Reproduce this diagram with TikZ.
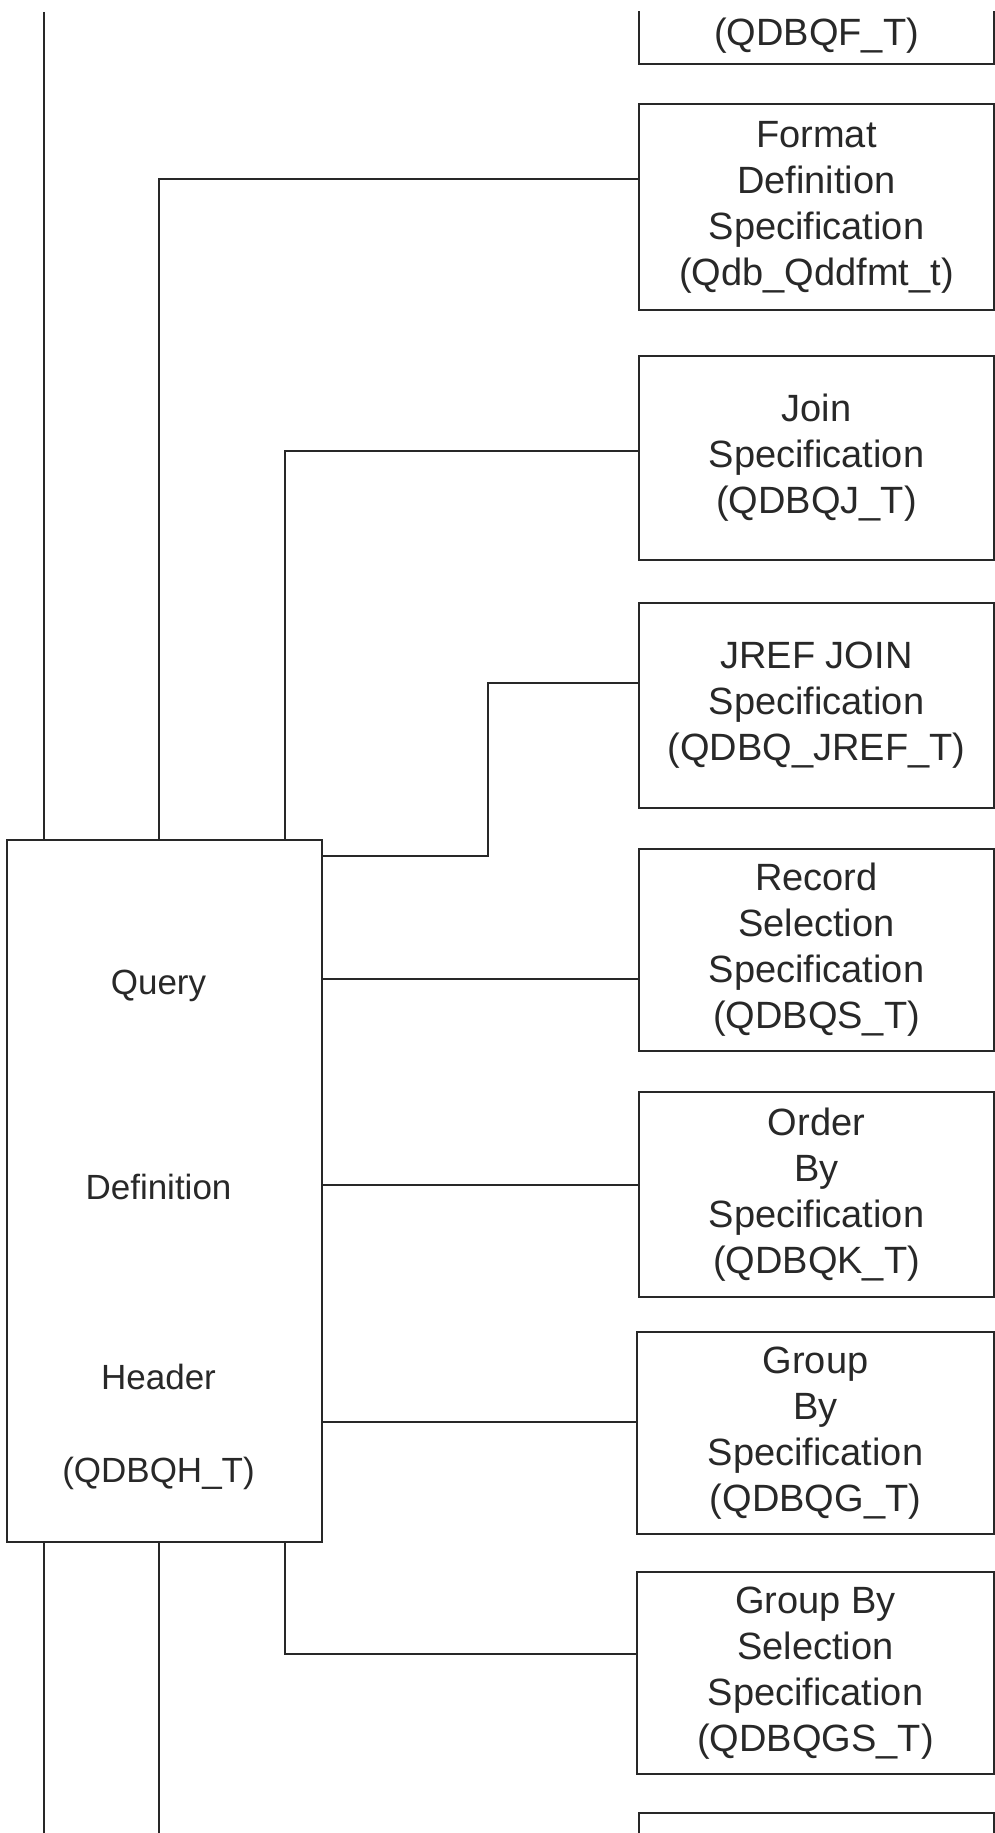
\documentclass[tikz,border=0pt]{standalone}
\usepackage{fontspec}
\setmainfont{Liberation Sans}
\usepackage{tikz}
\usetikzlibrary{shapes}
\definecolor{inkgray}{RGB}{40,40,40}
\tikzset{
    specbox/.style={rectangle, draw=inkgray, text=inkgray, line width=1.8pt,
      minimum width=355pt, minimum height=204pt, align=center,
      font=\fontsize{38}{46}\selectfont},
    hdrbox/.style={rectangle, draw=inkgray, text=inkgray, line width=1.8pt,
      minimum width=315pt, minimum height=702pt,
      font=\fontsize{35}{42}\selectfont},
    wire/.style={draw=inkgray, line width=1.8pt},
}

\begin{document}
\begin{tikzpicture}[x=1pt, y=-1pt]
\useasboundingbox (0,0) rectangle (995,1833);
\clip (0,12) rectangle (995,1833);

\node[specbox, minimum height=56pt] (fld) at (816.5,36) {(QDBQF\_T)};
\node[specbox, minimum height=206pt] (fmt) at (816.5,207)
    {Format\\Definition\\Specification\\(Qdb\_Qddfmt\_t)};
\node[specbox] (join) at (816.5,458) {Join\\Specification\\(QDBQJ\_T)};
\node[specbox, minimum height=205pt] (jref) at (816.5,705.5)
    {JREF JOIN\\Specification\\(QDBQ\_JREF\_T)};
\node[specbox, minimum height=202pt] (rec) at (816.5,950)
    {Record\\Selection\\Specification\\(QDBQS\_T)};
\node[specbox, minimum height=205pt] (ord) at (816.5,1194.5)
    {Order\\By\\Specification\\(QDBQK\_T)};
\node[specbox, minimum width=357pt, minimum height=202pt] (grp) at (815.5,1433)
    {Group\\By\\Specification\\(QDBQG\_T)};
\node[specbox, minimum width=357pt, minimum height=202pt] (gbs) at (815.5,1673)
    {Group By\\Selection\\Specification\\(QDBQGS\_T)};
\node[specbox, minimum height=120pt] (nxt) at (816.5,1873) {};

\node[hdrbox] (hdr) at (164.5,1191)
    {\begin{tabular}{@{}c@{}}\rule{0pt}{108pt}Query\\[163pt]Definition\\[148pt]Header\\[51pt](QDBQH\_T)\end{tabular}\hspace*{12pt}};

\coordinate (c1) at (44,12);
\coordinate (c2) at (159,12);
\coordinate (c3) at (285,12);
\coordinate (c4) at (488,12);
\coordinate (bot) at (0,1833);
\coordinate (fmtin) at ([yshift=28pt]fmt.west);
\coordinate (joinin) at ([yshift=7pt]join.west);
\coordinate (jrefin) at ([yshift=22.5pt]jref.west);
\coordinate (jrefout) at ([yshift=-17pt]hdr.north east);
\coordinate (recin) at ([yshift=-29pt]rec.west);
\coordinate (ordin) at ([yshift=9.5pt]ord.west);
\coordinate (grpin) at ([yshift=11pt]grp.west);
\coordinate (gbsin) at ([yshift=19pt]gbs.west);

\draw[wire] (c1) -- (c1 |- hdr.north);
\draw[wire] (fmtin) -| (c2 |- hdr.north);
\draw[wire] (joinin) -| (c3 |- hdr.north);
\draw[wire] (jrefout) -| (c4 |- jrefin) -- (jrefin);
\draw[wire] (recin) -- (recin -| hdr.east);
\draw[wire] (ordin) -- (ordin -| hdr.east);
\draw[wire] (grpin) -- (grpin -| hdr.east);
\draw[wire] (gbsin) -| (c3 |- hdr.south);
\draw[wire] (c1 |- hdr.south) -- (c1 |- bot);
\draw[wire] (c2 |- hdr.south) -- (c2 |- bot);
\end{tikzpicture}
\end{document}
